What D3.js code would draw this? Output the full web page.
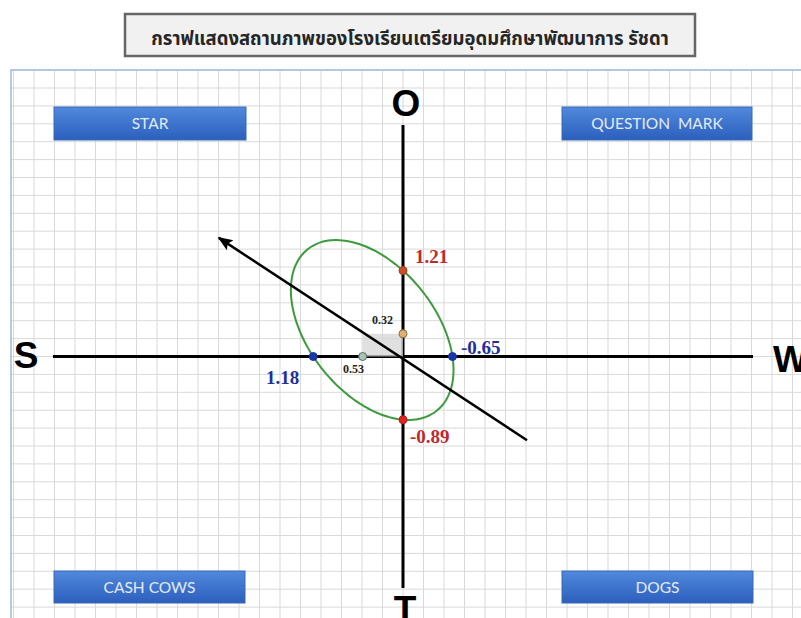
<!DOCTYPE html>
<html>
<head>
<meta charset="utf-8">
<script src="https://cdn.jsdelivr.net/npm/d3@7/dist/d3.min.js"></script>
<style>
  body { margin: 0; background: #fff; }
  svg { display: block; }
</style>
</head>
<body>
<script>
// chart data
var title = "กราฟแสดงสถานภาพของโรงเรียนเตรียมอุดมศึกษาพัฒนาการ รัชดา";
var axisLetters = ["S", "W", "O", "T"];
var quadrants = ["STAR", "QUESTION  MARK", "CASH COWS", "DOGS"];
var xValues = [1.18, -0.65];    // S (left) , W (right)
var yValues = [1.21, -0.89];    // O (up) , T (down)
var netValues = [0.53, 0.32];   // S+W , O+T
var lineX = [-1.63, 2.42];      // strategy arrow, from -> to
var lineY = [-1.18, 1.67];
var ellipseTilt = -0.75;

function graph(){
	var width = 801, height = 618;

	var xScale = d3.scaleLinear().domain([4.6, -4.6]).range([53, 753]);
	var yScale = d3.scaleLinear().domain([-3.26, 3.26]).range([588, 125]);

	var svg = d3.select("body")
				.append("svg")
				.attr("width", width)
				.attr("height", height);

	var defs = svg.append("defs");
	var grad = defs.append("linearGradient")
				.attr("id", "boxGrad")
				.attr("x1", 0).attr("y1", 0).attr("x2", 0).attr("y2", 1);
	grad.append("stop").attr("offset", "0%").attr("stop-color", "#5089dc");
	grad.append("stop").attr("offset", "100%").attr("stop-color", "#2c5fbd");

	defs.append("marker")
		.attr("id", "arrow")
		.attr("viewBox", "0 0 10 10")
		.attr("refX", 9).attr("refY", 5)
		.attr("markerWidth", 6).attr("markerHeight", 6)
		.attr("orient", "auto-start-reverse")
		.append("path")
		.attr("d", "M0,1 L10,5 L0,9 L2,5 Z")
		.attr("fill", "#000");

	// title
	svg.append("rect")
		.attr("x", 125).attr("y", 14)
		.attr("width", 570).attr("height", 42)
		.attr("fill", "#f1f1f1")
		.attr("stroke", "#666")
		.attr("stroke-width", 2.5);
	svg.append("text")
		.attr("x", 410).attr("y", 40)
		.attr("text-anchor", "middle")
		.attr("dominant-baseline", "middle")
		.style("font-family", "Tahoma, 'Noto Sans Thai', 'Noto Sans', sans-serif")
		.style("font-weight", "bold")
		.style("font-size", "18.5px")
		.style("fill", "#262626")
		.text(title);

	// grid paper
	var cx = xScale(0), cy = yScale(0);
	var gx = d3.range(-19, 20).map(function(k){ return cx + k * 20.5; })
				.filter(function(v){ return v > 11 && v < width; });
	var gy = d3.range(-16, 15).map(function(k){ return cy + k * 17.9; })
				.filter(function(v){ return v > 70 && v < height; });

	var grid = svg.append("g").attr("stroke", "#d9d9d9").attr("stroke-width", 1);
	grid.selectAll("line.v")
		.data(gx).enter().append("line")
		.attr("x1", function(d){ return d; }).attr("x2", function(d){ return d; })
		.attr("y1", 70).attr("y2", height);
	grid.selectAll("line.h")
		.data(gy).enter().append("line")
		.attr("x1", 11).attr("x2", width)
		.attr("y1", function(d){ return d; }).attr("y2", function(d){ return d; });

	svg.append("path")
		.attr("d", "M11," + height + " L11,70 L" + width + ",70")
		.attr("fill", "none")
		.attr("stroke", "#9dbbe0")
		.attr("stroke-width", 1.5);

	// quadrant boxes
	var boxes = [
		{x: 54, y: 107, w: 192, h: 33},
		{x: 562, y: 107, w: 190, h: 33},
		{x: 54, y: 571, w: 191, h: 32},
		{x: 562, y: 571, w: 191, h: 32}
	];
	var qb = svg.selectAll("g.quad")
		.data(quadrants).enter().append("g");
	qb.append("rect")
		.attr("x", function(d, i){ return boxes[i].x; })
		.attr("y", function(d, i){ return boxes[i].y; })
		.attr("width", function(d, i){ return boxes[i].w; })
		.attr("height", function(d, i){ return boxes[i].h; })
		.attr("fill", "url(#boxGrad)")
		.attr("stroke", "#3a68b8")
		.attr("stroke-width", 1);
	qb.append("text")
		.attr("x", function(d, i){ return boxes[i].x + boxes[i].w / 2; })
		.attr("y", function(d, i){ return boxes[i].y + boxes[i].h / 2 + 2; })
		.attr("text-anchor", "middle")
		.attr("dominant-baseline", "middle")
		.style("font-family", "Lato, 'Open Sans', sans-serif")
		.style("font-size", "15.5px")
		.style("fill", "#e3ebf8")
		.style("white-space", "pre")
		.text(function(d){ return d; });

	// axes
	svg.append("line")
		.attr("x1", xScale(4.6)).attr("x2", xScale(-4.6))
		.attr("y1", cy).attr("y2", cy)
		.attr("stroke", "#000").attr("stroke-width", 3);
	svg.append("line")
		.attr("x1", cx).attr("x2", cx)
		.attr("y1", yScale(3.26)).attr("y2", yScale(-3.26))
		.attr("stroke", "#000").attr("stroke-width", 3);

	var letterPos = [
		{x: 26, y: 368, a: "middle"},
		{x: 773, y: 372, a: "start"},
		{x: cx + 3, y: 116, a: "middle"},
		{x: cx + 2, y: 622, a: "middle"}
	];
	svg.selectAll("text.letter")
		.data(axisLetters).enter().append("text")
		.attr("x", function(d, i){ return letterPos[i].x; })
		.attr("y", function(d, i){ return letterPos[i].y; })
		.attr("text-anchor", function(d, i){ return letterPos[i].a; })
		.style("font-family", "'Liberation Sans', Arial, sans-serif")
		.style("font-weight", "bold")
		.style("font-size", "37px")
		.style("fill", "#000")
		.text(function(d){ return d; });

	// shaded net position
	svg.append("rect")
		.attr("x", xScale(netValues[0])).attr("y", yScale(netValues[1]))
		.attr("width", xScale(0) - xScale(netValues[0]))
		.attr("height", yScale(0) - yScale(netValues[1]))
		.attr("fill", "#d6d6d6").attr("opacity", 0.75);

	// ellipse through the four axis values
	var A = 1,
		D = -(xValues[0] + xValues[1]),
		F = xValues[0] * xValues[1],
		C = F / (yValues[0] * yValues[1]),
		E = -C * (yValues[0] + yValues[1]),
		B = ellipseTilt;
	var ring = d3.range(0, 360, 2).map(function(deg){
		var t = deg * Math.PI / 180, c = Math.cos(t), s = Math.sin(t);
		var qa = A*c*c + B*c*s + C*s*s, qb2 = D*c + E*s;
		var r = (-qb2 + Math.sqrt(qb2*qb2 - 4*qa*F)) / (2*qa);
		return [r * c, r * s];
	});
	svg.append("path")
		.datum(ring)
		.attr("d", d3.line()
			.x(function(d){ return xScale(d[0]); })
			.y(function(d){ return yScale(d[1]); })
			.curve(d3.curveCardinalClosed))
		.attr("fill", "none")
		.attr("stroke", "#3d9a3d")
		.attr("stroke-width", 2);

	// strategy arrow
	svg.append("line")
		.attr("x1", xScale(lineX[0])).attr("y1", yScale(lineY[0]))
		.attr("x2", xScale(lineX[1])).attr("y2", yScale(lineY[1]))
		.attr("stroke", "#000").attr("stroke-width", 2.5)
		.attr("marker-end", "url(#arrow)");

	// points
	var pts = [
		{x: xValues[0], y: 0, fill: "#1a35a8", stroke: "#1a35a8"},
		{x: xValues[1], y: 0, fill: "#1a35a8", stroke: "#1a35a8"},
		{x: 0, y: yValues[0], fill: "#c8502a", stroke: "#a63a1c"},
		{x: 0, y: yValues[1], fill: "#e02222", stroke: "#c01818"},
		{x: netValues[0], y: 0, fill: "#a9c4b4", stroke: "#5a6e62"},
		{x: 0, y: netValues[1], fill: "#e0b070", stroke: "#8a6a3a"}
	];
	svg.selectAll("circle.pt")
		.data(pts).enter().append("circle")
		.attr("cx", function(d){ return xScale(d.x); })
		.attr("cy", function(d){ return yScale(d.y); })
		.attr("r", 4)
		.attr("fill", function(d){ return d.fill; })
		.attr("stroke", function(d){ return d.stroke; })
		.attr("stroke-width", 1);

	// value labels
	var labels = [
		{v: xValues[0], x: 266, y: 384, c: "#1f2f9e", s: 19},
		{v: xValues[1], x: 461, y: 354, c: "#1f2f9e", s: 19},
		{v: yValues[0], x: 415, y: 263, c: "#c0282d", s: 19},
		{v: yValues[1], x: 410, y: 443, c: "#c0282d", s: 19},
		{v: netValues[0], x: 343, y: 373, c: "#222", s: 12},
		{v: netValues[1], x: 372, y: 324, c: "#222", s: 12}
	];
	svg.selectAll("text.val")
		.data(labels).enter().append("text")
		.attr("x", function(d){ return d.x; })
		.attr("y", function(d){ return d.y; })
		.style("font-family", "'Liberation Serif', 'Times New Roman', serif")
		.style("font-weight", "bold")
		.style("font-size", function(d){ return d.s + "px"; })
		.style("fill", function(d){ return d.c; })
		.text(function(d){ return d.v.toFixed(2); });
}

graph()
</script>
</body>
</html>
